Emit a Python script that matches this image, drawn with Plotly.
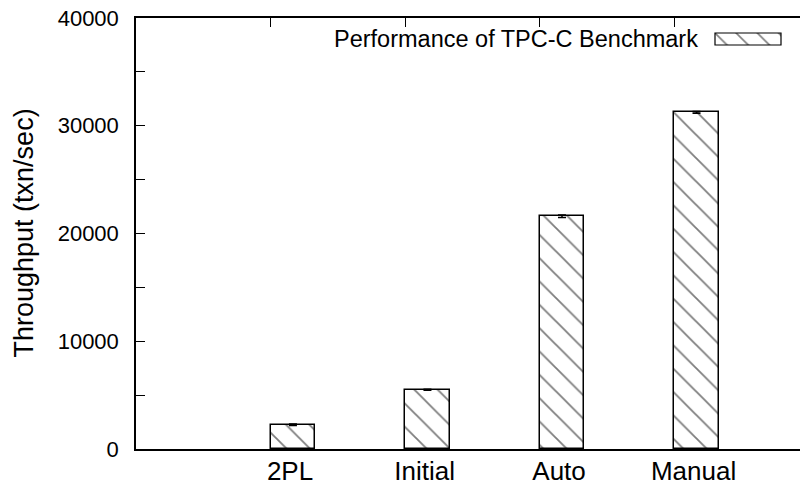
import plotly.graph_objects as go

# Benchmark results
categories = ["2PL", "Initial", "Auto", "Manual"]
throughput = [2250, 5500, 21600, 31250]
throughput_err = [60, 40, 120, 80]
y_ticks = [0, 5000, 10000, 15000, 20000, 25000, 30000, 35000, 40000]
y_tick_text = ["0", "", "10000", "", "20000", "", "30000", "", "40000"]
legend_label = "Performance of TPC-C Benchmark"

W, H = 800, 487
L, R, T, B = 136, 0, 18, 38
plot_w = W - L - R
plot_h = H - T - B

slot = [i + 1 for i in range(len(categories))]
bar_w = 1 / 3
bar_x = [s + bar_w / 2 for s in slot]
label_x = [s + 0.145 for s in slot]
x_max = 4.936

FONT = "Liberation Sans, Arial, Helvetica, sans-serif"
pattern = dict(shape="\\", size=16.5, solidity=0.11, fgcolor="black", bgcolor="white")


def px_x(p):
    return (p - L) / plot_w


def px_y(p):
    return (H - B - p) / plot_h


fig = go.Figure()
fig.add_trace(go.Bar(
    x=bar_x, y=throughput, width=bar_w,
    marker=dict(color="white", line=dict(color="black", width=1.5), pattern=pattern),
    error_y=dict(type="data", array=throughput_err, color="black", thickness=1.5, width=4),
    showlegend=False,
))

# legend key: a patterned box on its own small axes, outlined by a shape
key_x0, key_x1, key_y0, key_y1 = 715, 781, 45, 33
fig.add_trace(go.Bar(
    x=[0], y=[1], width=[1], xaxis="x3", yaxis="y3",
    marker=dict(color="white", line=dict(width=0),
                pattern=dict(shape="\\", size=15, solidity=0.11, fgcolor="black", bgcolor="white")),
    showlegend=False, hoverinfo="skip",
))

fig.add_trace(go.Scatter(x=[None], y=[None], xaxis="x2", showlegend=False))

fig.update_layout(
    width=W, height=H,
    margin=dict(l=L, r=R, t=T, b=B, autoexpand=False),
    paper_bgcolor="white", plot_bgcolor="white",
    font=dict(family=FONT, color="black"),
    showlegend=False,
    bargap=0,
    xaxis=dict(
        range=[0, x_max], tickmode="array", tickvals=label_x, ticktext=categories,
        ticks="", showgrid=False, zeroline=False, showline=True, linecolor="black",
        linewidth=1.5, tickfont=dict(size=26), ticklabelstandoff=-2, automargin=False,
    ),
    xaxis2=dict(
        overlaying="x", side="top", range=[0, x_max], tickmode="array", tickvals=slot,
        ticks="inside", ticklen=9, tickwidth=1, tickcolor="black", showticklabels=False,
        showgrid=False, zeroline=False, showline=True, linecolor="black", linewidth=1.5,
    ),
    yaxis=dict(
        range=[0, 40000], tickmode="array", tickvals=y_ticks, ticktext=y_tick_text,
        ticks="inside", ticklen=9, tickwidth=1, tickcolor="black", showgrid=False,
        zeroline=False, showline=True, linecolor="black", linewidth=1.5,
        tickfont=dict(size=22), ticklabelstandoff=11, automargin=False,
    ),
    xaxis3=dict(domain=[px_x(key_x0), px_x(key_x1)], range=[-0.5, 0.5], visible=False,
                anchor="y3", fixedrange=True),
    yaxis3=dict(domain=[px_y(key_y0), px_y(key_y1)], range=[0, 1], visible=False,
                anchor="x3", fixedrange=True),
    shapes=[
        dict(type="rect", xref="paper", yref="paper",
             x0=px_x(key_x0), x1=px_x(key_x1), y0=px_y(key_y0), y1=px_y(key_y1),
             line=dict(color="black", width=1.2), fillcolor="rgba(0,0,0,0)", layer="above"),
    ],
    annotations=[
        dict(text=legend_label, xref="paper", yref="paper", x=px_x(700), y=px_y(39),
             xanchor="right", yanchor="middle", showarrow=False, font=dict(size=23.5)),
        dict(text="Throughput (txn/sec)", xref="paper", yref="paper", x=0, y=0.5,
             xshift=-113, xanchor="center", yanchor="middle", textangle=-90,
             showarrow=False, font=dict(size=27)),
    ],
)

fig.write_html("out.html")
